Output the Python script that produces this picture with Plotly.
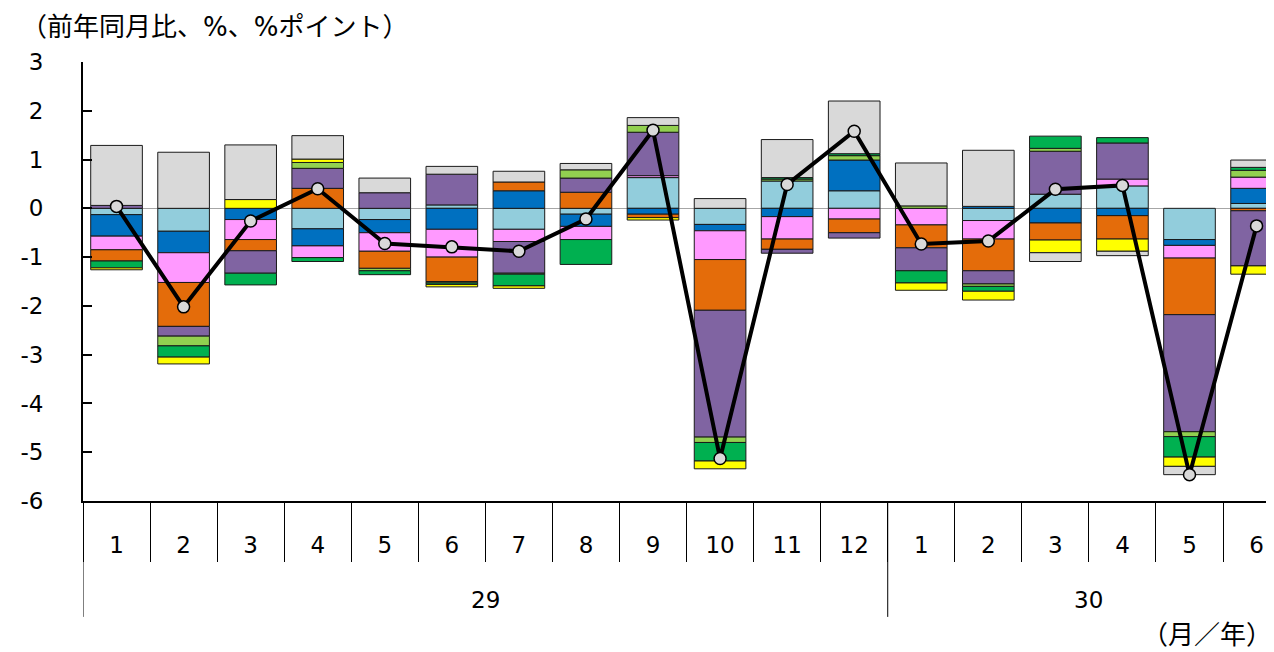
import plotly.graph_objects as go

months = ["1", "2", "3", "4", "5", "6", "7", "8", "9", "10", "11", "12",
          "1", "2", "3", "4", "5", "6"]
years = ["29", "30"]
year_centers = [5.5, 14.5]
y_ticks = [-6, -5, -4, -3, -2, -1, 0, 1, 2, 3]
y_tick_text = ["-6", "-5", "-4", "-3", "-2", "-1", "0", "1", "2", "3"]

light_blue = [-0.13, -0.47, None, -0.42, -0.23, 0.07, -0.43, -0.12, 0.63, -0.33, 0.56, 0.36, None, -0.25, 0.29, 0.46, -0.64, 0.10]
blue = [-0.44, -0.44, -0.23, -0.35, -0.27, -0.43, 0.36, -0.25, -0.12, -0.13, -0.17, 0.63, None, 0.04, -0.30, -0.15, -0.12, 0.31]
pink = [-0.28, -0.61, -0.41, -0.24, -0.38, -0.57, -0.25, -0.27, 0.04, -0.59, -0.46, -0.22, -0.34, -0.38, None, 0.14, -0.26, 0.23]
orange = [-0.23, -0.90, -0.23, 0.41, -0.35, -0.50, 0.18, 0.33, -0.07, -1.04, -0.21, -0.28, -0.47, -0.65, -0.35, -0.48, -1.16, -0.05]
purple = [0.06, -0.20, -0.46, 0.41, 0.32, 0.63, -0.65, 0.29, 0.89, -2.60, -0.08, -0.11, -0.47, -0.27, 0.88, 0.74, -2.40, -1.13]
light_green = [None, -0.20, None, 0.12, -0.05, -0.03, -0.02, 0.17, 0.14, -0.11, 0.04, 0.09, 0.05, -0.05, 0.06, None, -0.10, 0.14]
green = [-0.14, -0.23, -0.24, -0.08, -0.08, -0.03, -0.24, -0.51, None, -0.38, 0.03, 0.04, -0.25, -0.10, 0.25, 0.11, -0.42, 0.06]
yellow = [-0.04, -0.14, 0.18, 0.07, None, -0.05, -0.05, None, -0.05, -0.16, None, None, -0.15, -0.18, -0.26, -0.25, -0.19, -0.17]
gray = [1.23, 1.15, 1.12, 0.48, 0.30, 0.16, 0.22, 0.13, 0.16, 0.20, 0.78, 1.08, 0.88, 1.15, -0.18, -0.09, -0.17, 0.15]
total = [0.04, -2.02, -0.26, 0.40, -0.72, -0.79, -0.88, -0.22, 1.60, -5.13, 0.49, 1.58, -0.73, -0.67, 0.39, 0.47, -5.46, -0.36]

series = [
    ("寄与1", light_blue, "#92CDDC"),
    ("寄与2", blue, "#0070C0"),
    ("寄与3", pink, "#FF99FF"),
    ("寄与4", orange, "#E46C0A"),
    ("寄与5", purple, "#8064A2"),
    ("寄与6", light_green, "#92D050"),
    ("寄与7", green, "#00B050"),
    ("寄与8", yellow, "#FFFF00"),
    ("寄与9", gray, "#D9D9D9"),
]

x = list(range(len(months)))
FONT = "DejaVu Sans, Noto Sans CJK JP, sans-serif"

fig = go.Figure()
for name, vals, col in series:
    fig.add_trace(go.Bar(
        x=x, y=vals, name=name, width=0.77,
        marker=dict(color=col, line=dict(color="#1a1a1a", width=1)),
    ))

fig.add_trace(go.Scatter(
    x=x, y=total, name="前年同月比", mode="lines+markers",
    line=dict(color="black", width=4),
    marker=dict(size=12, color="#D9D9D9", line=dict(color="black", width=1.5)),
))

fig.update_layout(
    width=1266, height=644, autosize=False,
    barmode="relative",
    showlegend=False,
    plot_bgcolor="white", paper_bgcolor="white",
    margin=dict(l=75, r=0, t=54, b=151),
    font=dict(family=FONT, size=23, color="black"),
    xaxis=dict(
        range=[-0.5, 17.26],
        tickmode="array", tickvals=x, ticktext=months,
        ticks="", showgrid=False, zeroline=False,
        showline=True, linecolor="black", linewidth=2,
        tickfont=dict(size=23, family=FONT),
        ticklabelstandoff=22,
        minor=dict(tickmode="array", tickvals=[i - 0.5 for i in range(19)],
                   ticks="outside", ticklen=59, tickwidth=1, tickcolor="black",
                   showgrid=False),
    ),
    yaxis=dict(
        range=[-6, 3], tickmode="array", tickvals=y_ticks, ticktext=y_tick_text,
        ticks="inside", ticklen=9, tickwidth=1.5, tickcolor="black",
        showline=True, linecolor="black", linewidth=2,
        showgrid=False,
        zeroline=True, zerolinecolor="#A6A6A6", zerolinewidth=1,
        tickfont=dict(size=23, family=FONT),
        ticklabelstandoff=33,
    ),
)

fig.add_annotation(text="（前年同月比、%、%ポイント）", xref="paper", yref="paper",
                   x=-0.054, y=1.08, xanchor="left", yanchor="middle",
                   showarrow=False, font=dict(size=26, family=FONT))
for yr, cx in zip(years, year_centers):
    fig.add_annotation(text=yr, xref="x", yref="paper", x=cx, y=-0.2255,
                       xanchor="center", yanchor="middle", showarrow=False,
                       font=dict(size=23, family=FONT))
fig.add_annotation(text="（月／年）", xref="paper", yref="paper", x=1.0, y=-0.305,
                   xanchor="right", yanchor="middle", showarrow=False,
                   font=dict(size=26, family=FONT))

for bx in [-0.5, 11.5]:
    fig.add_shape(type="line", xref="x", yref="paper", x0=bx, x1=bx, y0=0, y1=-0.264,
                  line=dict(color="black", width=1))

fig.write_html("out.html")
